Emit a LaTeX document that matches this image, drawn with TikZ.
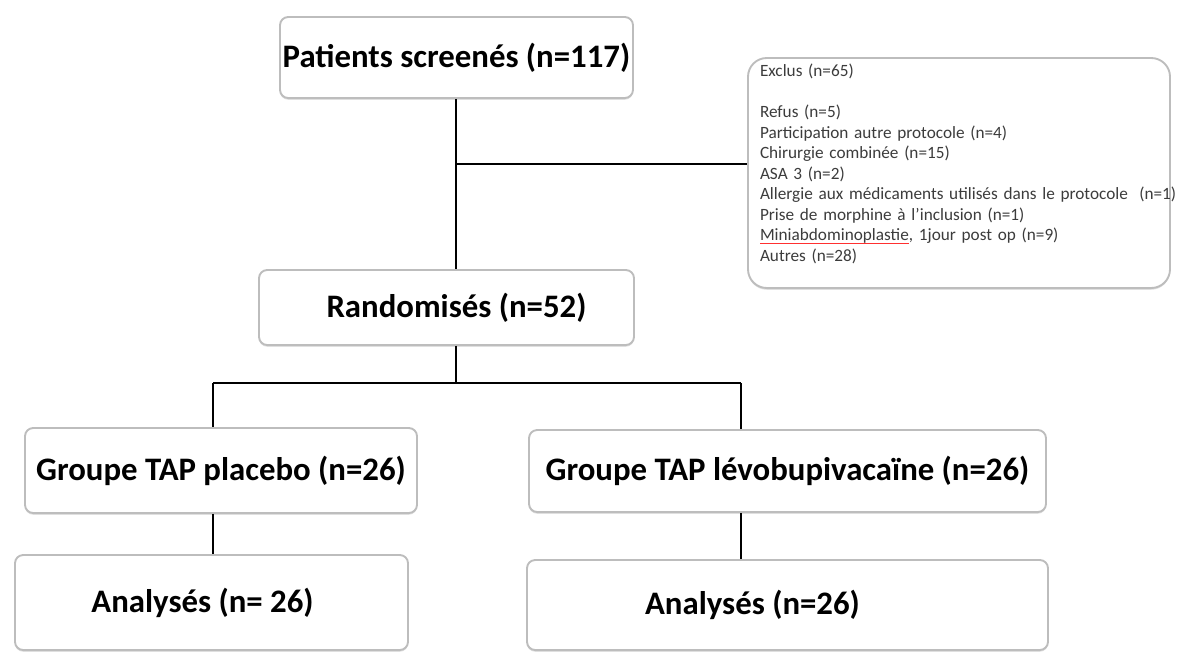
\documentclass[tikz,border=0pt]{standalone}
\usepackage{fontspec}
\setmainfont{Carlito}
\usetikzlibrary{positioning,calc,shadows}
\definecolor{Edge}{HTML}{BDBDBD}
\definecolor{Ink}{HTML}{3C3C3C}
\definecolor{Squiggle}{HTML}{FF3030}
\newsavebox{\spellbox}
\newcommand{\spellmark}[1]{\leavevmode\sbox{\spellbox}{#1}\rlap{\textcolor{Squiggle}{\rule[-3pt]{\wd\spellbox}{1.3pt}}}\usebox{\spellbox}}

\begin{document}
\begin{tikzpicture}[
  stage/.style={rounded corners=7pt,draw=Edge,line width=1.6pt,fill=white,align=center,inner sep=0pt,
    font=\fontsize{28}{32}\selectfont\bfseries,
    drop shadow={shadow xshift=0pt,shadow yshift=-1.5pt,opacity=0.25}},
  exclbox/.style={rounded corners=16pt,draw=Edge,line width=1.6pt,fill=white,align=left,
    text width=11.94cm,inner xsep=0.36cm,inner ysep=0pt,minimum height=6.9cm,text=Ink,
    font=\fontsize{14.7}{17.5}\selectfont,
    drop shadow={shadow xshift=0pt,shadow yshift=-1.5pt,opacity=0.25}},
  link/.style={line width=2.4pt,draw=black}
]
\useasboundingbox (0,0) rectangle (35.34,-19.59);
\node[stage,minimum width=10.59cm,minimum height=2.43cm] (screened) at (13.695,-1.725) {Patients screenés (n=117)};
\node[exclbox] (excl) at (28.77,-5.19) {Exclus (n=65)\\[17.5pt]
  Refus (n=5)\\
  Participation autre protocole (n=4)\\
  Chirurgie combinée (n=15)\\
  ASA 3 (n=2)\\
  \mbox{Allergie aux médicaments utilisés dans le protocole\ \ (n=1)}\\
  Prise de morphine à l'inclusion (n=1)\\
  \spellmark{Miniabdominoplastie}, 1jour post op (n=9)\\
  Autres (n=28)\par\vspace*{0.55cm}};
\node[stage,minimum width=11.25cm,minimum height=2.25cm] (rand) at (13.395,-9.225) {\hspace*{0.6cm}Randomisés (n=52)};
\node[stage,minimum width=11.76cm,minimum height=2.55cm] (grpL) at (6.63,-14.115) {Groupe TAP placebo (n=26)};
\node[stage,minimum width=15.51cm,minimum height=2.46cm] (grpR) at (23.625,-14.13) {Groupe TAP lévobupivacaïne (n=26)};
\node[stage,minimum width=11.79cm,minimum height=2.85cm] (anL) at (6.345,-18.075) {\raisebox{-0.2cm}{Analysés (n= 26)}\hspace*{0.54cm}};
\node[stage,minimum width=15.63cm,minimum height=2.7cm] (anR) at (23.625,-18.15) {\raisebox{-0.2cm}{Analysés (n=26)}\hspace*{2.1cm}};
% branch points
\coordinate (trunk) at (13.68,-4.92);
\coordinate (split) at (13.68,-11.49);
\coordinate (splitL) at (6.39,-11.49);
\coordinate (splitR) at (22.23,-11.49);
\draw[link] (screened.south -| trunk) -- (rand.north -| trunk);
\draw[link] (trunk) -- (excl.west |- trunk);
\draw[link] (rand.south -| split) -- (split);
\draw[link] (splitL) -- (splitR);
\draw[link] (splitL) -- (grpL.north -| splitL);
\draw[link] (splitR) -- (grpR.north -| splitR);
\draw[link] (grpL.south -| splitL) -- (anL.north -| splitL);
\draw[link] (grpR.south -| splitR) -- (anR.north -| splitR);
\end{tikzpicture}
\end{document}
